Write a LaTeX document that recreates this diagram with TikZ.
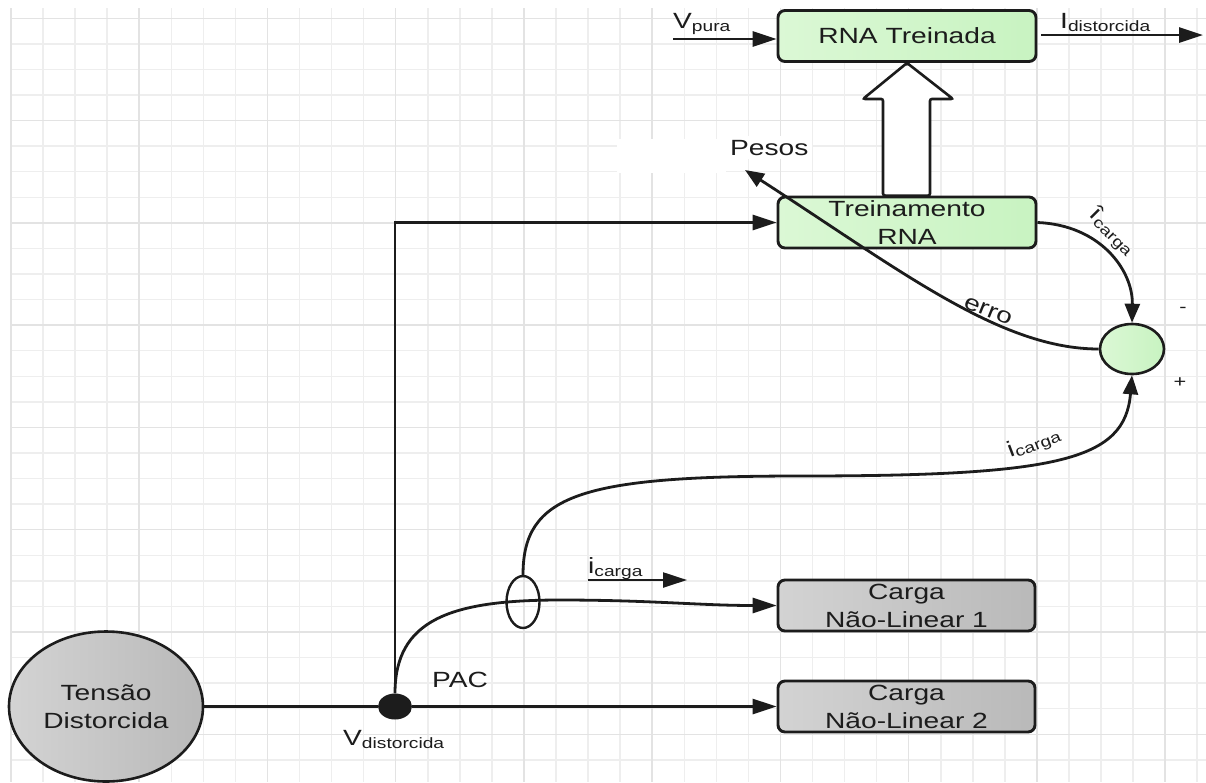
\documentclass[tikz,border=0pt]{standalone}
\usepackage{fontspec}
\setmainfont{Liberation Sans}[FakeStretch=1.28]
\usetikzlibrary{arrows.meta,shapes.geometric,calc}
% lowered, smaller subscript in the text font
\newcommand\lsub[1]{\raisebox{-3pt}{\fontsize{15}{15}\selectfont #1}}

\definecolor{gridminor}{HTML}{EEEEEE}
\definecolor{gridmajor}{HTML}{E3E3E3}
\definecolor{greenA}{HTML}{DBF8D5}
\definecolor{greenB}{HTML}{C8F3C1}
\definecolor{grayA}{HTML}{D3D3D3}
\definecolor{grayB}{HTML}{B9B9B9}
\definecolor{ink}{HTML}{1C1C1C}

\begin{document}
\begin{tikzpicture}[x=1pt,y=-1pt,
  every node/.style={font=\fontsize{22}{28}\selectfont, text=ink, inner sep=0pt},
  small/.style={font=\fontsize{17}{17}\selectfont},
  nnbox/.style={draw=ink, line width=2.9pt, rounded corners=7pt,
    minimum width=258pt, minimum height=51pt, align=center,
    left color=greenA, right color=greenB},
  loadbox/.style={draw=ink, line width=2.9pt, rounded corners=7pt,
    minimum width=257pt, minimum height=51pt, align=center,
    left color=grayA, right color=grayB},
  wire/.style={draw=ink, line width=2.8pt},
  arr/.style={wire, -{Triangle[length=24pt,width=15pt]}},
  carr/.style={wire, -{Triangle[length=19pt,width=15pt]}}
]
\useasboundingbox (0,0) rectangle (1206,782);
\fill[white] (0,0) rectangle (1206,782);

% background grid
\foreach \k in {0,...,37}
  \draw[gridminor, line width=1.5pt] ({11+32.06*\k},8) -- ({11+32.06*\k},782);
\foreach \k in {0,...,29}
  \draw[gridminor, line width=1.5pt] (11,{18.3+25.57*\k}) -- (1206,{18.3+25.57*\k});
\foreach \k in {0,4,...,36}
  \draw[gridmajor, line width=1.5pt] ({11+32.06*\k},8) -- ({11+32.06*\k},782);
\foreach \k in {0,4,...,28}
  \draw[gridmajor, line width=1.5pt] (11,{18.3+25.57*\k}) -- (1206,{18.3+25.57*\k});
\fill[white] (617,139) rectangle (726,173);

% blocks
\node[nnbox] (rna) at (907,36) {RNA Treinada};
\node[nnbox] (treino) at (907,222.5) {Treinamento\\RNA};
\node[loadbox] (carga1) at (906.5,605.5) {Carga\\Não-Linear 1};
\node[loadbox] (carga2) at (906.5,706.5) {Carga\\Não-Linear 2};
\node[ellipse, draw=ink, line width=2.6pt, minimum width=194pt, minimum height=150pt,
      align=center, left color=grayA, right color=grayB] (fonte) at (106,706.5) {Tensão\\Distorcida};
\node[ellipse, draw=ink, line width=2.6pt, minimum width=64pt, minimum height=50pt,
      left color=greenA, right color=greenB] (soma) at (1132,349) {};
\node[ellipse, fill=ink, minimum width=34pt, minimum height=26pt] (pac) at (395,706.5) {};
\node[ellipse, draw=ink, line width=2.4pt, minimum width=33pt, minimum height=52pt] (sensor) at (523,602) {};

% hollow arrow: trained weights go to the trained network
\draw[draw=ink, line width=2.6pt, fill=white, rounded corners=2pt]
  (rna.south) -- ($(rna.south)+(-44,36)$) -- ($(rna.south)+(-24,36)$)
  -- ($(treino.north)+(-24,0)$) -- ($(treino.north)+(23,0)$)
  -- ($(rna.south)+(23,36)$) -- ($(rna.south)+(46,36)$) -- cycle;

% labels
\node[anchor=base west] (vpuraLbl) at (673,28) {V\lsub{pura}};
\node[anchor=base west] (idLbl) at (1060,28) {I\lsub{distorcida}};
\node[anchor=base west] (vdLbl) at (343,745) {V\lsub{distorcida}};
\node[anchor=base west] (pacLbl) at (432,687) {PAC};
\node[anchor=base west, fill=white, inner sep=4pt] (pesos) at (726,155) {Pesos};
\node[rotate=-22] (erroLbl) at (988,311) {erro};
\node[rotate=-45] (ihatLbl) at (1112,232) {î\lsub{carga}};
\node[rotate=21] (icLbl) at (1034,443) {i\lsub{carga}};
\node[anchor=base west] (icSensLbl) at (588,573) {i\lsub{carga}};
\node[small] (menos) at (1183,310) {-};
\node[small] (mais) at (1180,383) {+};

\coordinate (vpin) at (673,39);
\coordinate (idout) at (1203,35);
\coordinate (pesostip) at (745,170);
\coordinate (ua) at (588,580);
\coordinate (ub) at (687,580);

% connections
\draw[arr] (vpin) -- (vpin -| rna.west);
\draw[arr] ($(rna.east |- idout)+(4,0)$) -- (idout);
\draw[wire] (fonte.east) -- (pac.west);
\draw[arr] (pac.east) -- (carga2.west);
\draw[arr] (pac.north) |- (treino.west);
\draw[arr] (pac.north) .. controls (395,620) and (450,600) .. (560,600)
  .. controls (650,600) and (700,605.5) .. (carga1.west);
\draw[carr] (sensor.north) .. controls (523,495) and (580,476) .. (800,476)
  .. controls (1060,476) and (1125,460) .. (soma.south);
\draw[carr] (treino.east) .. controls (1100,225) and (1133,270) .. (soma.north);
\draw[carr] (soma.west) .. controls (1000,349) and (900,270) .. (pesostip);
\draw[arr, line width=2.3pt] (ua) -- (ub);
\end{tikzpicture}
\end{document}
